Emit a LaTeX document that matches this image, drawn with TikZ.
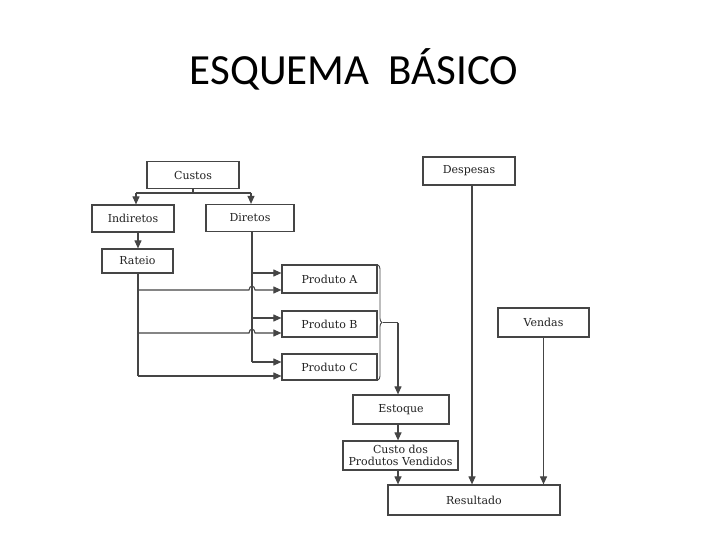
\documentclass[tikz,border=0pt]{standalone}
\usepackage{fontspec}
\setmainfont{DejaVu Serif}
\newfontfamily\titlefont{Carlito}
\usetikzlibrary{arrows.meta,decorations.pathreplacing}
\definecolor{ln}{HTML}{454545}
\definecolor{tx}{HTML}{222222}
\tikzset{
  bx/.style={draw=ln,line width=1.2pt,fill=white,inner sep=0pt,text=tx,
    font=\fontsize{11}{12}\selectfont,align=center},
  con/.style={draw=ln,line width=1.1pt},
  arr/.style={con,-{Triangle[length=8pt,width=7pt]}},
}
\begin{document}
\begin{tikzpicture}[x=1pt,y=-1pt]
\useasboundingbox[fill=white] (0,0) rectangle (720,540);
\node[anchor=base,font=\titlefont\fontsize{43}{50}\selectfont] (title) at (354,85) {ESQUEMA\ \ BÁSICO};
% boxes
\node[bx,minimum width=92pt,minimum height=27pt] (custos) at (193,175) {Custos};
\node[bx,minimum width=82pt,minimum height=27pt] (indiretos) at (133,218.5) {Indiretos};
\node[bx,minimum width=88pt,minimum height=27pt] (diretos) at (250,218) {Diretos};
\node[bx,minimum width=71pt,minimum height=24pt] (rateio) at (137.5,261) {Rateio};
\node[bx,minimum width=95pt,minimum height=28pt] (pa) at (329.5,279) {Produto A};
\node[bx,minimum width=95pt,minimum height=26pt] (pb) at (329.5,324) {Produto B};
\node[bx,minimum width=95pt,minimum height=26pt] (pc) at (329.5,367) {Produto C};
\node[bx,minimum width=92pt,minimum height=28pt] (despesas) at (469,171) {Despesas};
\node[bx,minimum width=91pt,minimum height=29pt] (vendas) at (543.5,322.5) {Vendas};
\node[bx,minimum width=96pt,minimum height=29pt] (estoque) at (401,409.5) {Estoque};
\node[bx,minimum width=115pt,minimum height=29pt,font=\fontsize{11}{11.5}\selectfont] (cpv) at (400.5,455.5) {Custo dos\\Produtos Vendidos};
\node[bx,minimum width=172pt,minimum height=30pt] (resultado) at (474,500) {Resultado};
% helper coordinates
\coordinate (cj) at (193,193);
\coordinate (ci) at (136,193);
\coordinate (cd) at (251,193);
\coordinate (dx) at (252,0);
\coordinate (rx) at (138,0);
\coordinate (sx) at (398,0);
\coordinate (ex) at (472,0);
% Custos split
\draw[con] (custos.south) -- (cj);
\draw[con] (ci) -- (cd);
\draw[arr] (ci) -- (ci |- indiretos.north);
\draw[arr] (cd) -- (cd |- diretos.north);
\draw[arr] (indiretos.south -| rx) -- (rateio.north -| rx);
% Diretos column
\coordinate (da) at (252,273);
\coordinate (db) at (252,318);
\coordinate (dc) at (252,362);
\draw[con] (diretos.south -| dx) -- (dc);
\draw[arr] (da) -- (pa.west |- da);
\draw[arr] (db) -- (pb.west |- db);
\draw[arr] (dc) -- (pc.west |- dc);
% Rateio column
\coordinate (ra) at (138,290);
\coordinate (rb) at (138,333);
\coordinate (rc) at (138,376);
\draw[con] (rateio.south -| rx) -- (rc);
\draw[arr] (ra) -- (249,290) .. controls (249,285) and (255,285) .. (255,290) -- (pa.west |- ra);
\draw[arr] (rb) -- (249,333) .. controls (249,328) and (255,328) .. (255,333) -- (pb.west |- rb);
\draw[arr] (rc) -- (pc.west |- rc);
% brace
\coordinate (bt) at (378,265);
\coordinate (bb) at (378,380);
\draw[con,line width=0.9pt,decorate,decoration={brace,amplitude=4pt}] (bt) -- (bb);
\coordinate (tip) at (383,322.5);
\draw[con] (tip) -- (tip -| sx);
\draw[arr] (tip -| sx) -- (estoque.north -| sx);
\draw[arr] (estoque.south -| sx) -- (cpv.north -| sx);
\draw[arr] (cpv.south -| sx) -- (resultado.north -| sx);
% despesas and vendas
\draw[arr] (despesas.south -| ex) -- (resultado.north -| ex);
\draw[arr] (vendas.south) -- (resultado.north -| vendas.south);
\end{tikzpicture}
\end{document}
